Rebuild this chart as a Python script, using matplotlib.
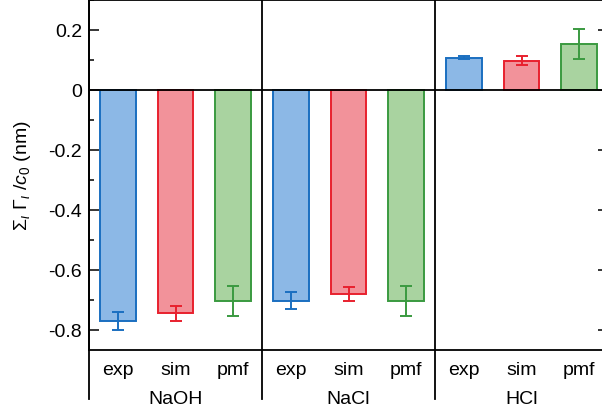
import matplotlib
matplotlib.use("Agg")
import matplotlib.pyplot as plt
import matplotlib.transforms as mtransforms
from matplotlib.ticker import MultipleLocator

plt.rcParams["font.family"] = ["Liberation Sans", "DejaVu Sans"]
plt.rcParams["mathtext.fontset"] = "custom"
plt.rcParams["mathtext.rm"] = "Liberation Sans"
plt.rcParams["mathtext.it"] = "Liberation Sans:italic"

groups = ["NaOH", "NaCl", "HCl"]
methods = ["exp", "sim", "pmf"]
values = [-0.771, -0.744, -0.703,
          -0.702, -0.680, -0.703,
          0.108, 0.097, 0.152]
errors = [0.030, 0.025, 0.050,
          0.028, 0.022, 0.050,
          0.004, 0.015, 0.050]

edge_colors = ["#1a6fc0", "#e8202e", "#3a9a40"]
face_colors = ["#8cb8e6", "#f2929a", "#a9d3a0"]

fig = plt.figure(figsize=(6.02, 4.10), dpi=100)
ax = fig.add_axes([89 / 602, 59 / 410, 519 / 602, 350 / 410])

xs = list(range(len(values)))
for i, (x, v, e) in enumerate(zip(xs, values, errors)):
    k = i % 3
    ax.bar(x, v, width=0.62, color=face_colors[k], edgecolor=edge_colors[k],
           linewidth=1.4, zorder=2)
    ax.errorbar(x, v, yerr=e, fmt="none", ecolor=edge_colors[k], elinewidth=1.4,
                capsize=4, capthick=1.4, zorder=3)

ax.axhline(0, color="black", linewidth=1.3, zorder=4)

ax.set_xlim(-0.5, 8.5)
ax.set_ylim(-0.867, 0.3)
ax.yaxis.set_major_locator(MultipleLocator(0.2))
ax.yaxis.set_minor_locator(MultipleLocator(0.1))
ax.yaxis.set_major_formatter(plt.FuncFormatter(
    lambda v, p: "0" if abs(v) < 1e-9 else f"{v:.1f}"))
ax.tick_params(axis="y", which="major", direction="in", length=7, width=1.1,
               labelsize=14, right=True, pad=5)
ax.tick_params(axis="y", which="minor", direction="in", length=3.5, width=1.1,
               right=True)

ax.set_xticks(xs)
ax.set_xticklabels(methods * 3)
ax.tick_params(axis="x", length=0, labelsize=14, pad=8)

for s in ax.spines.values():
    s.set_linewidth(1.3)

trans = mtransforms.blended_transform_factory(ax.transData, ax.transAxes)
for xsep in [-0.5, 2.5, 5.5]:
    ax.plot([xsep, xsep], [-0.14, 1], color="black", linewidth=1.3,
            transform=trans, clip_on=False, zorder=5)
for g, name in enumerate(groups):
    ax.text(3 * g + 1, -0.14, name, transform=trans, ha="center",
            va="center", fontsize=14)

ax.set_ylabel(r"$\Sigma_\iota\ \Gamma_\iota\ /c_0$ (nm)", fontsize=14, labelpad=11)

fig.savefig("out.png", dpi=100)
